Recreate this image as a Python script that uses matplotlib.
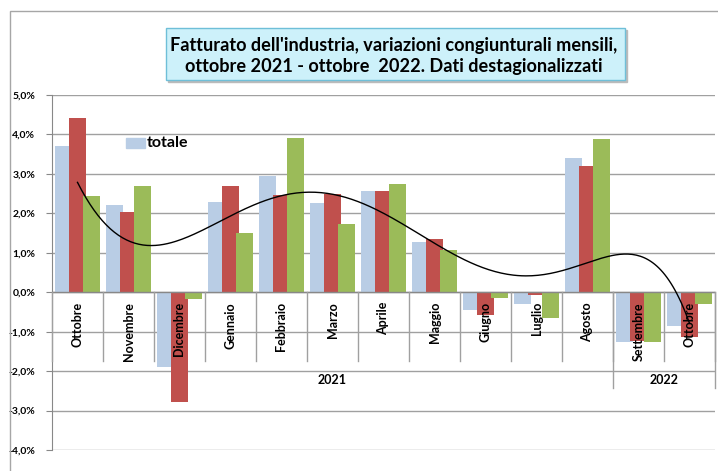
import numpy as np
import matplotlib.pyplot as plt
from matplotlib.patches import Rectangle

plt.rcParams['font.family'] = ['Lato', 'DejaVu Sans']

mesi = ['Ottobre', 'Novembre', 'Dicembre', 'Gennaio', 'Febbraio', 'Marzo', 'Aprile',
        'Maggio', 'Giugno', 'Luglio', 'Agosto', 'Settembre', 'Ottobre']
anni = ['2021', '2022']
totale = [3.70, 2.22, -1.89, 2.29, 2.94, 2.25, 2.57, 1.28, -0.44, -0.30, 3.41, -1.25, -0.85]
serie2 = [4.42, 2.03, -2.79, 2.69, 2.46, 2.48, 2.56, 1.34, -0.57, -0.07, 3.19, -1.24, -1.13]
serie3 = [2.43, 2.69, -0.17, 1.50, 3.92, 1.72, 2.74, 1.06, -0.15, -0.65, 3.88, -1.25, -0.29]
yticks = [5, 4, 3, 2, 1, 0, -1, -2, -3, -4]

W, H = 718, 471
fig = plt.figure(figsize=(W / 100, H / 100), dpi=100)

# frame of the chart area
fig.patches.append(Rectangle((10 / W, -0.05), 720 / W, 1 - 11 / H + 0.05, transform=fig.transFigure,
                             fill=False, edgecolor='#a6a6a6', lw=1))

ax = fig.add_axes([52 / W, 21 / H, 663 / W, 355 / H])
x = np.arange(len(mesi))
bw = 0.34
off = 0.28
ax.bar(x - off, totale, bw, color='#b9cde5', zorder=2)
ax.bar(x, serie2, bw, color='#c0504d', zorder=3)
ax.bar(x + off, serie3, bw, color='#9bbb59', zorder=4)

# polynomial trend (6th order) on the third series
xs = np.linspace(0, 12, 300)
p = np.polyfit(x, serie3, 6)
ax.plot(xs, np.polyval(p, xs), color='black', lw=1, zorder=8)

ax.set_xlim(-0.5, 12.5)
ax.set_ylim(-4, 5)
ax.set_yticks(yticks)
ax.set_yticklabels([('%.1f%%' % v).replace('.', ',') for v in yticks], fontsize=7.5, fontweight='bold')
ax.tick_params(axis='y', length=4, color='#888888', pad=8)
ax.set_xticks([])
ax.grid(axis='y', color='#a0a0a0', lw=1, zorder=0)
for s in ['top', 'right', 'bottom']:
    ax.spines[s].set_visible(False)
ax.spines['left'].set_color('#888888')
ax.axhline(0, color='#888888', lw=1, zorder=6)

# multilevel category axis
for i in range(len(mesi) + 1):
    ax.plot([i - 0.5, i - 0.5], [0, -1.75], color='#a0a0a0', lw=1, clip_on=False, zorder=6)
for b in [10.5, 12.5]:
    ax.plot([b, b], [0, -2.43], color='#a0a0a0', lw=1, clip_on=False, zorder=6)
for i, m in enumerate(mesi):
    ax.text(i, -0.25, m, rotation=90, ha='center', va='top', fontsize=9, fontweight='bold', zorder=7)
ax.text(5, -2.23, anni[0], ha='center', va='center', fontsize=9, fontweight='bold')
ax.text(11.5, -2.23, anni[1], ha='center', va='center', fontsize=9, fontweight='bold')

# legend
fig.patches.append(Rectangle((126 / W, 1 - 148 / H), 19 / W, 10 / H, transform=fig.transFigure,
                             color='#b9cde5'))
fig.text(147 / W, 1 - 143 / H, 'totale', fontsize=11.5, fontweight='bold', va='center')

# title box
fig.patches.append(Rectangle((168 / W, 1 - 82 / H), 459 / W, 52 / H, transform=fig.transFigure,
                             color='#bbbbbb', zorder=1))
fig.patches.append(Rectangle((166 / W, 1 - 80 / H), 459 / W, 52 / H, transform=fig.transFigure,
                             facecolor='#cdf1fa', edgecolor='#6fbfd8', lw=1, zorder=2))
fig.text(394 / W, 1 - 56 / H, "Fatturato dell'industria, variazioni congiunturali mensili,\n"
         "ottobre 2021 - ottobre  2022. Dati destagionalizzati",
         ha='center', va='center', fontsize=13.1, fontweight='bold', linespacing=1.3, zorder=3)

fig.savefig('out.png', dpi=100)
